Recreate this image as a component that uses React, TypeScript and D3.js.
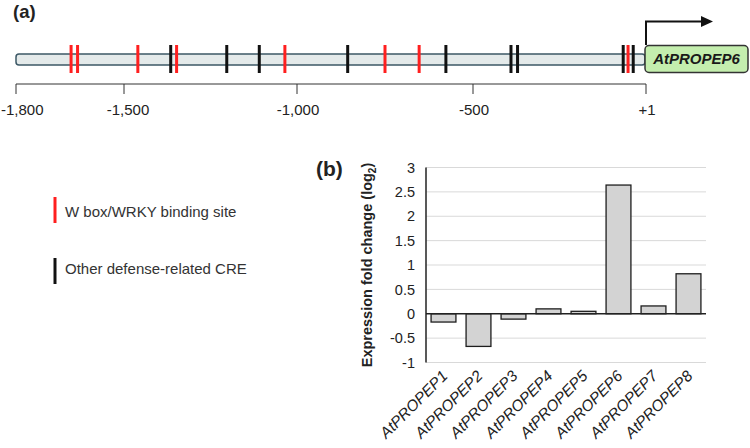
import React from "react";
import * as d3 from "d3";

// Promoter map: cis-regulatory element positions (bp upstream of TSS)
const wboxSites = [-1647, -1629, -1460, -1348, -1035, -750, -653, -51];
const otherCRESites = [-1365, -1203, -1109, -856, -577, -390, -371, -65, -36];
const promoterTicks = [-1800, -1500, -1000, -500, 1];
const promoterTickLabels = ["-1,800", "-1,500", "-1,000", "-500", "+1"];

// Expression of the PROPEP family
const genes = [
  "AtPROPEP1",
  "AtPROPEP2",
  "AtPROPEP3",
  "AtPROPEP4",
  "AtPROPEP5",
  "AtPROPEP6",
  "AtPROPEP7",
  "AtPROPEP8",
];
const foldChange = [-0.17, -0.67, -0.11, 0.1, 0.05, 2.64, 0.16, 0.82];
const yTicks = [-1, -0.5, 0, 0.5, 1, 1.5, 2, 2.5, 3];

const FONT = "'Liberation Sans', Arial, sans-serif";
const RED = "#ff1f1f";
const BLACK = "#111111";

export default function App() {
  const W = 750;
  const H = 448;

  // panel (a) scale (drawn map is not quite uniform between tick marks)
  const px = d3
    .scaleLinear()
    .domain([-1800, -1500, -1000, -500, 1])
    .range([16, 124, 297, 473, 646]);
  const barY0 = 54;
  const barY1 = 65;
  const markY0 = 45;
  const markY1 = 73;
  const axisY = 84;

  // panel (b) scales
  const x = d3.scaleBand<string>().domain(genes).range([426, 706]).paddingInner(0.29).paddingOuter(0.145);
  const y = d3.scaleLinear().domain([-1, 3]).range([362.5, 167.5]);

  return (
    <svg
      width={W}
      height={H}
      style={{ position: "absolute", left: 0, top: 0, background: "#fff" }}
      fontFamily={FONT}
    >
      {/* ---------- panel (a) ---------- */}
      <text x={13} y={18} fontSize={18.5} fontWeight="bold" fill="#222">
        (a)
      </text>

      {/* promoter region */}
      <rect
        x={px(-1800)}
        y={barY0}
        width={px(1) - px(-1800) - 1}
        height={barY1 - barY0}
        rx={3}
        fill="#e4eaea"
        stroke="#3c5866"
        strokeWidth={1.5}
      />

      {wboxSites.map((d, i) => (
        <line key={`w${i}`} x1={px(d)} x2={px(d)} y1={markY0} y2={markY1} stroke={RED} strokeWidth={3} />
      ))}
      {otherCRESites.map((d, i) => (
        <line key={`o${i}`} x1={px(d)} x2={px(d)} y1={markY0} y2={markY1} stroke={BLACK} strokeWidth={3} />
      ))}

      {/* gene box and TSS arrow */}
      <path d={`M${px(1)},${markY0} V21.5 H703`} fill="none" stroke="#111" strokeWidth={2} />
      <path d="M701,16 L713,21.5 L701,27 Z" fill="#111" />
      <rect x={645} y={45.5} width={103} height={27} rx={4} fill="#c4eeae" stroke="#333" strokeWidth={1.5} />
      <text
        x={696.5}
        y={59}
        dy="0.36em"
        textAnchor="middle"
        fontSize={15}
        fontStyle="italic"
        fontWeight="bold"
        fill="#1a1a1a"
      >
        AtPROPEP6
      </text>

      {/* position scale */}
      <line x1={px(-1800)} x2={px(1)} y1={axisY} y2={axisY} stroke="#333" strokeWidth={1} />
      {promoterTicks.map((t, i) => (
        <g key={`t${i}`}>
          <line x1={px(t)} x2={px(t)} y1={axisY} y2={axisY + 10} stroke="#333" strokeWidth={1} />
          <text
            x={i === 0 ? 1 : px(t) + (i === 1 ? 4 : 1)}
            y={115}
            textAnchor={i === 0 ? "start" : "middle"}
            fontSize={15}
            fill="#222"
          >
            {promoterTickLabels[i]}
          </text>
        </g>
      ))}

      {/* legend */}
      <line x1={55} x2={55} y1={197} y2={223} stroke={RED} strokeWidth={3} />
      <text x={65} y={212} dy="0.36em" fontSize={15} fill="#333">
        W box/WRKY binding site
      </text>
      <line x1={55} x2={55} y1={258} y2={284} stroke={BLACK} strokeWidth={3} />
      <text x={65} y={269} dy="0.36em" fontSize={15} fill="#333">
        Other defense-related CRE
      </text>

      {/* ---------- panel (b) ---------- */}
      <text x={316} y={176} fontSize={21} fontWeight="bold" fill="#222">
        (b)
      </text>

      {/* gridlines */}
      {yTicks
        .filter((t) => t !== 0)
        .map((t) => (
          <line key={`g${t}`} x1={426} x2={706} y1={y(t)} y2={y(t)} stroke="#d9d9d9" strokeWidth={1} />
        ))}

      {/* bars */}
      {genes.map((g, i) => {
        const v = foldChange[i];
        const y0 = y(Math.max(0, v));
        const h = Math.abs(y(v) - y(0));
        return (
          <rect
            key={g}
            x={x(g)}
            y={y0}
            width={x.bandwidth()}
            height={h}
            fill="#d3d3d3"
            stroke="#1e1e1e"
            strokeWidth={1.3}
          />
        );
      })}

      {/* axes */}
      <line x1={426} x2={426} y1={y(3)} y2={y(-1)} stroke="#222" strokeWidth={1.5} />
      <line x1={426} x2={706} y1={y(0)} y2={y(0)} stroke="#222" strokeWidth={1.5} />

      {yTicks.map((t) => (
        <text key={`yl${t}`} x={415} y={y(t)} dy="0.36em" textAnchor="end" fontSize={14.5} fill="#222">
          {String(t)}
        </text>
      ))}

      <text
        transform={`translate(372,${y(1)}) rotate(-90)`}
        textAnchor="middle"
        fontSize={14.5}
        fontWeight="bold"
        fill="#222"
      >
        Expression fold change (log
        <tspan fontSize={10} dy={4}>
          2
        </tspan>
        <tspan dy={-4}>)</tspan>
      </text>

      {genes.map((g) => (
        <text
          key={`xl${g}`}
          transform={`translate(${(x(g) ?? 0) + x.bandwidth() / 2 + 5},${377}) rotate(-45)`}
          textAnchor="end"
          fontSize={15.5}
          fontStyle="italic"
          fill="#222"
        >
          {g}
        </text>
      ))}
    </svg>
  );
}
